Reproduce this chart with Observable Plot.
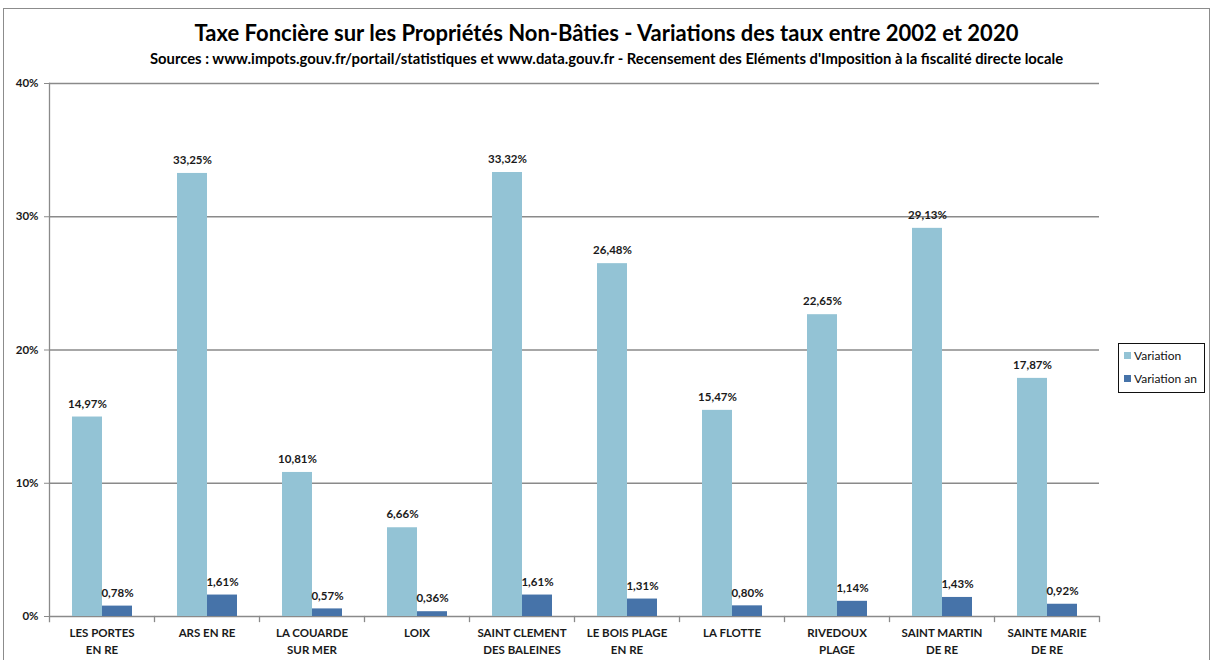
<!DOCTYPE html>
<html><head><meta charset="utf-8">
<script src="https://cdn.jsdelivr.net/npm/d3@7"></script>
<script src="https://cdn.jsdelivr.net/npm/@observablehq/plot@0.6"></script>
<style>
body{margin:0;background:#fff;font-family:Lato,"Open Sans",sans-serif;}
#wrap{position:relative;width:1213px;height:660px;overflow:hidden;background:#fff;}
#border{position:absolute;left:3px;top:8px;width:1207px;height:700px;border:1px solid #8c8c8c;box-sizing:border-box;}
#title{position:absolute;top:20px;left:0;width:1213px;text-align:center;font-weight:bold;font-size:22px;line-height:26px;color:#000;}
#subtitle{position:absolute;top:49px;left:0;width:1213px;text-align:center;font-weight:bold;font-size:14.8px;line-height:18px;color:#000;}
#chart{position:absolute;left:0;top:70px;}
#legend{position:absolute;left:1118px;top:343px;width:87px;height:50px;border:1.5px solid #111;box-sizing:border-box;font-size:12px;color:#111;}
#legend .it{position:absolute;left:5px;display:flex;align-items:center;gap:3px;white-space:nowrap;}
#legend .sw{width:7px;height:7px;display:inline-block;}
</style></head>
<body>
<div id="wrap">
  <div id="border"></div>
  <div id="title"></div>
  <div id="subtitle"></div>
  <div id="chart"></div>
  <div id="legend"></div>
</div>
<script>
const titleText = "Taxe Foncière sur les Propriétés Non-Bâties - Variations des taux entre 2002 et 2020";
const subtitleText = "Sources : www.impots.gouv.fr/portail/statistiques et www.data.gouv.fr - Recensement des Eléments d'Imposition à la fiscalité directe locale";
const communes = ["LES PORTES EN RE","ARS EN RE","LA COUARDE SUR MER","LOIX","SAINT CLEMENT DES BALEINES","LE BOIS PLAGE EN RE","LA FLOTTE","RIVEDOUX PLAGE","SAINT MARTIN DE RE","SAINTE MARIE DE RE"];
const communeLabels = ["LES PORTES\nEN RE","ARS EN RE","LA COUARDE\nSUR MER","LOIX","SAINT CLEMENT\nDES BALEINES","LE BOIS PLAGE\nEN RE","LA FLOTTE","RIVEDOUX\nPLAGE","SAINT MARTIN\nDE RE","SAINTE MARIE\nDE RE"];
const seriesNames = ["Variation","Variation an"];
const variation = [14.97,33.25,10.81,6.66,33.32,26.48,15.47,22.65,29.13,17.87];
const variationAn = [0.78,1.61,0.57,0.36,1.61,1.31,0.80,1.14,1.43,0.92];
const yTicks = [0,10,20,30,40];
const seriesColors = ["#93c3d5","#4673a9"];

document.getElementById("title").textContent = titleText;
document.getElementById("subtitle").textContent = subtitleText;

const data = [];
communes.forEach((c,i)=>{
  data.push({commune:c, series:seriesNames[0], value:variation[i]});
  data.push({commune:c, series:seriesNames[1], value:variationAn[i]});
});
const labelOf = Object.fromEntries(communes.map((c,i)=>[c,communeLabels[i]]));
const fmt = v => v.toFixed(2).replace(".", ",") + "%";

const plotH = 590, mT = 13, mB = 44;
const chart = Plot.plot({
  width: 1213, height: plotH,
  marginLeft: 45, marginRight: 111, marginTop: mT, marginBottom: mB,
  style: {fontFamily: "Lato, 'Open Sans', sans-serif", fontWeight: "bold", fontSize: "11.5px", color: "#1a1a1a", background: "transparent"},
  fx: {domain: communes, padding: 0, label: null, axis: null},
  x: {domain: seriesNames, paddingInner: 0, paddingOuter: 0.73, axis: null},
  y: {domain: [0,40], label: null},
  color: {domain: seriesNames, range: seriesColors},
  marks: [
    Plot.gridY(yTicks, {stroke: "#8a8a8a", strokeOpacity: 1, strokeWidth: 1.3}),
    Plot.frame({anchor: "left", fx: communes[0], stroke: "#8a8a8a", strokeWidth: 1.3, insetBottom: -5}),
    Plot.frame({anchor: "right", stroke: "#8a8a8a", strokeWidth: 1.3, insetTop: plotH - mT - mB, insetBottom: -5}),
    Plot.axisY(yTicks, {tickSize: 5, tickPadding: 6, tickFormat: d => d + "%", stroke: "#8a8a8a", label: null}),
    Plot.axisFx({anchor: "bottom", tickSize: 0, tickPadding: 9, lineHeight: 1.45, tickFormat: c => labelOf[c], label: null}),
    Plot.barY(data, {fx: "commune", x: "series", y: "value", fill: "series"}),
    Plot.text(data, {fx: "commune", x: "series", y: "value", text: d => fmt(d.value), dy: -13, fill: "#1a1a1a"})
  ]
});
document.getElementById("chart").appendChild(chart);

const legend = document.getElementById("legend");
seriesNames.forEach((s,i)=>{
  const it = document.createElement("div");
  it.className = "it";
  it.style.top = (4 + i*23) + "px";
  const sw = document.createElement("span");
  sw.className = "sw"; sw.style.background = seriesColors[i];
  const tx = document.createElement("span");
  tx.textContent = s;
  it.appendChild(sw); it.appendChild(tx);
  legend.appendChild(it);
});
</script>
</body></html>
